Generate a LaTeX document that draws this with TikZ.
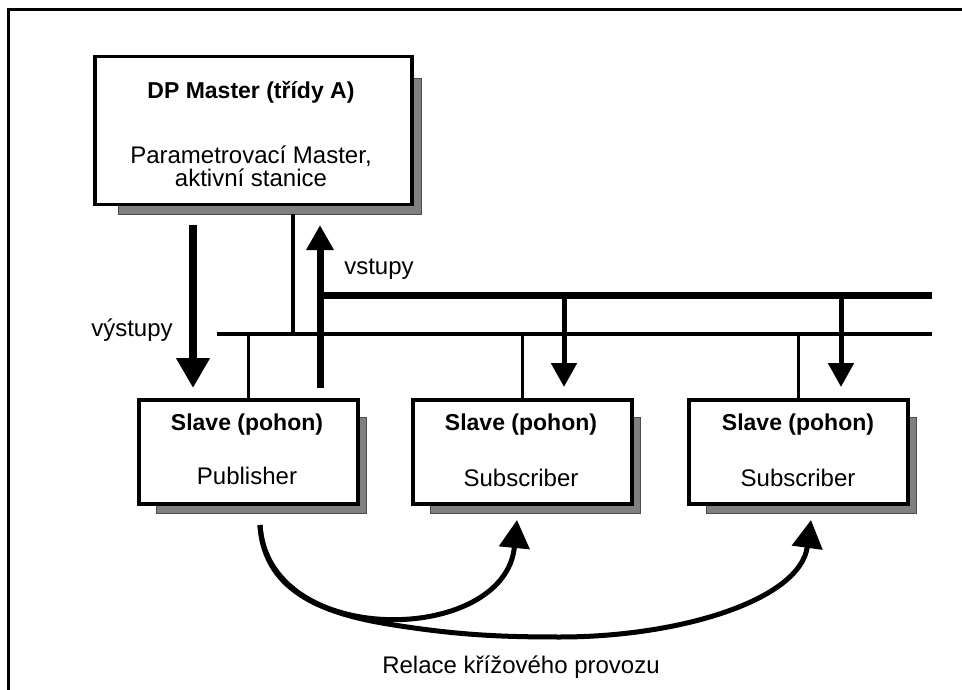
\documentclass[tikz,border=0pt]{standalone}
\usepackage{fontspec}
\setmainfont{Liberation Sans}
\usetikzlibrary{arrows.meta,calc}
\definecolor{shadowgray}{HTML}{808080}
\begin{document}
\begin{tikzpicture}[x=1pt,y=-1pt,
  boxbase/.style={draw=black,fill=white,line width=3.5pt,inner sep=0pt,anchor=north west},
  masterbox/.style={boxbase,minimum width=317pt,minimum height=148pt},
  slavebox/.style={boxbase,minimum width=219pt,minimum height=104pt},
  shadowbase/.style={draw=black!70,fill=shadowgray,line width=1pt,inner sep=0pt,anchor=north west},
  mastershadow/.style={shadowbase,minimum width=303pt,minimum height=136pt},
  slaveshadow/.style={shadowbase,minimum width=210pt,minimum height=96pt},
  titletext/.style={font=\fontsize{23}{25}\selectfont\bfseries,inner sep=0pt},
  bodytext/.style={font=\fontsize{24}{23}\selectfont,inner sep=0pt,align=center},
  wire/.style={draw=black,line width=3.5pt},
  thickbus/.style={draw=black,line width=7pt},
  bigdown/.style={draw=black,line width=8pt,-{Triangle[length=30pt,width=32pt]}},
  bigup/.style={draw=black,line width=7pt,-{Triangle[length=25pt,width=26pt]}},
  smalldown/.style={draw=black,line width=5pt,-{Triangle[length=24pt,width=25pt]}},
  crossarrow/.style={draw=black,line width=5pt,-{Triangle[length=28pt,width=30pt]}}
]
\useasboundingbox (0,0) rectangle (962,690);
\fill[white] (0,0) rectangle (962,690);
% outer frame (only top and left edges visible)
\coordinate (frameTR) at (962,9.5);
\coordinate (frameTL) at (8.5,9.5);
\coordinate (frameBL) at (8.5,690);
\draw[line width=3pt] (frameTR) -- (frameTL) -- (frameBL);

% shadows
\node[mastershadow] (ms) at (118,78) {};
\node[slaveshadow] (s1s) at (156,417) {};
\node[slaveshadow] (s2s) at (430,417) {};
\node[slaveshadow] (s3s) at (706,417) {};

% boxes
\node[masterbox] (m) at (93,55) {};
\node[slavebox] (s1) at (137,398) {};
\node[slavebox] (s2) at (411,398) {};
\node[slavebox] (s3) at (687,398) {};

% texts
\node[titletext] (mt) at (251,92) {DP Master (třídy A)};
\node[bodytext] (mb) at (251,166) {Parametrovací Master,\\aktivní stanice};
\node[titletext] (s1t) at (247,425) {Slave (pohon)};
\node[bodytext] (s1b) at (247,476) {Publisher};
\node[titletext] (s2t) at (521,425) {Slave (pohon)};
\node[bodytext] (s2b) at (521,478) {Subscriber};
\node[titletext] (s3t) at (798,425) {Slave (pohon)};
\node[bodytext] (s3b) at (798,478) {Subscriber};
\node[bodytext] (lin) at (379,269) {vstupy};
\node[bodytext] (lout) at (132,330) {výstupy};
\node[bodytext] (lrel) at (521,667) {Relace křížového provozu};

% buses
\coordinate (busL) at (217,334);
\coordinate (busR) at (932,334);
\coordinate (ubusL) at (320,295);
\coordinate (ubusR) at (932,295);
\draw[wire] (busL) -- (busR);
\draw[thickbus] (ubusL) -- (ubusR);

% master drop line
\coordinate (mv) at (293,214);
\draw[wire] (mv) -- (mv |- busL);

% stubs to slaves
\draw[wire] (s1.north) -- (s1.north |- busL);
\draw[wire] (s2.north) -- (s2.north |- busL);
\draw[wire] (s3.north) -- (s3.north |- busL);

% outputs arrow (down) and inputs arrow (up)
\coordinate (outTop) at (193,225);
\coordinate (outTip) at (193,388);
\draw[bigdown] (outTop) -- (outTip);
\coordinate (inBot) at (320,388);
\coordinate (inTip) at (320,225);
\draw[bigup] (inBot) -- (inTip);

% subscriber inputs from upper bus
\coordinate (d2top) at (564,295);
\coordinate (d2tip) at (564,387);
\coordinate (d3top) at (841,295);
\coordinate (d3tip) at (841,387);
\draw[smalldown] (d2top) -- (d2tip);
\draw[smalldown] (d3top) -- (d3tip);

% cross traffic curves
\coordinate (cs) at (260,525);
\coordinate (c2tip) at (517,520);
\coordinate (c3tip) at (811,520);
\draw[crossarrow] (cs) .. controls (268,650) and (505,645) .. (c2tip);
\draw[crossarrow] (cs) .. controls (264,595) and (330,615) .. (394,625)
                       .. controls (458,635) and (500,637) .. (560,637)
                       .. controls (680,637) and (800,600) .. (c3tip);
\end{tikzpicture}
\end{document}
